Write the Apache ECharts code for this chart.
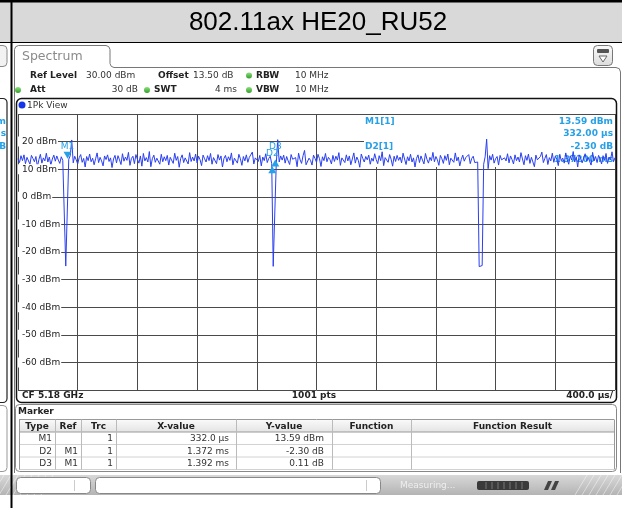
<!DOCTYPE html>
<html lang="en">
<head>
<meta charset="UTF-8">
<title>802.11ax HE20_RU52</title>
<style>
  html, body { margin: 0; padding: 0; background: #fff; }
  #chart { width: 622px; height: 508px; }
</style>
<script src="https://cdn.jsdelivr.net/npm/echarts@6.0.0/dist/echarts.min.js"></script>
</head>
<body>
<div id="chart"></div>
<script>
// trace 1 (peak detector), one value every 10 us from 0 to 4000 us
const traceStepUs = 10;
const traceDbm = [
  13.8, 12.4, 14.9, 13.1, 15.2, 12.0, 14.3, 13.6, 11.8, 15.0, 13.9, 12.7, 14.6, 10.9, 13.5, 15.4, 12.2, 14.1, 13.0, 15.8,
  12.6, 14.4, 11.5, 13.7, 15.1, 12.9, 14.8, 13.3, 12.1, 14.5, 13.2, 12.8, -25.1, -25.4, 13.6, 14.9, 20.6, 12.3, 14.7, 13.4,
  11.9, 14.2, 15.3, 12.5, 13.9, 10.8, 14.6, 13.1, 15.5, 12.7, 14.0, 11.6, 13.8, 15.9, 12.4, 14.3, 13.0, 11.2, 14.8, 13.5,
  15.2, 12.8, 14.1, 10.6, 13.7, 15.0, 12.3, 14.9, 13.4, 11.7, 15.6, 12.9, 14.4, 13.2, 16.1, 11.4, 13.9, 14.7, 12.0, 15.3,
  13.6, 12.2, 14.8, 11.1, 15.7, 13.0, 14.2, 12.6, 16.4, 10.9, 13.8, 15.1, 12.5, 14.0, 13.3, 11.8, 15.4, 12.7, 14.5, 13.1,
  15.0, 11.5, 14.3, 13.7, 12.1, 15.8, 13.2, 14.6, 10.7, 13.9, 15.2, 12.4, 14.1, 13.5, 11.9, 16.0, 12.8, 14.4, 13.0, 15.5,
  12.3, 14.7, 13.4, 11.3, 15.1, 13.8, 12.6, 14.9, 13.1, 15.7, 11.8, 14.2, 13.6, 12.0, 15.3, 13.3, 14.8, 10.8, 13.9, 15.0,
  12.7, 14.5, 13.2, 15.9, 11.6, 14.0, 13.5, 12.2, 15.4, 13.8, 11.4, 14.6, 13.0, 15.2, 12.5, 14.3, 13.7, 16.2, 11.9, 14.1,
  13.4, 12.8, 15.0, 11.2, 14.4, 13.1, 15.6, 12.4, 13.9, 14.7, 12.0, -25.2, -25.0, 11.3, 20.7, 12.6, 14.8, 13.3, 15.1, 12.2,
  14.6, 13.0, 11.7, 15.3, 13.6, 12.9, 14.2, 10.9, 15.8, 13.4, 12.1, 14.9, 16.8, 11.6, 12.3, 14.0, 13.2, 11.5, 15.1, 13.9,
  12.5, 15.4, 13.8, 11.0, 14.5, 13.1, 15.7, 12.7, 14.3, 13.5, 11.9, 15.0, 12.8, 14.7, 13.3, 16.0, 11.4, 14.1, 13.6, 12.4,
  15.2, 13.0, 14.8, 11.6, 13.7, 15.9, 12.2, 14.4, 13.2, 10.7, 15.5, 13.9, 12.6, 14.6, 13.4, 15.1, 11.8, 14.0, 12.9, 15.6,
  13.5, 12.0, 14.9, 13.1, 16.3, 11.3, 14.2, 13.8, 12.5, 15.3, 13.6, 11.1, 14.7, 12.8, 15.0, 13.2, 14.4, 12.3, 15.8, 13.7,
  11.7, 14.5, 13.0, 15.4, 12.6, 14.1, 10.8, 13.9, 15.2, 12.4, 14.8, 13.3, 11.9, 15.7, 13.6, 12.2, 14.3, 13.1, 16.1, 12.7,
  14.6, 13.4, 11.4, 15.0, 13.8, 12.1, 14.9, 13.2, 15.5, 11.6, 14.0, 13.7, 12.5, 15.9, 13.0, 14.4, 11.2, 13.5, 15.1, 12.9,
  14.2, 13.6, 15.3, 12.0, 13.9, 14.7, 12.4, 13.1, 12.6, -25.3, -25.1, -24.9, 11.8, 14.5, 20.9, 10.2, 14.9, 13.3, 15.4, 12.2,
  13.8, 14.6, 11.5, 15.0, 13.4, 12.7, 14.1, 13.0, 15.6, 12.3, 14.8, 13.5, 11.9, 15.2, 13.1, 14.4, 12.6, 16.0, 13.7, 11.6,
  14.9, 13.2, 15.5, 12.1, 14.3, 13.8, 10.9, 15.1, 13.4, 12.8, 14.6, 16.2, 12.4, 13.9, 15.3, 11.7, 14.2, 13.0, 15.8, 12.5,
  14.7, 13.6, 11.3, 15.4, 13.1, 14.0, 12.2, 15.9, 13.5, 11.8, 14.8, 13.3, 16.4, 12.6, 14.5, 10.8, 15.2, 13.9, 12.3, 14.1,
  15.6, 12.9, 14.3, 13.7, 11.5, 16.1, 13.0, 14.6, 12.4, 15.0, 13.8, 11.9, 14.9, 13.2, 15.7, 12.1, 14.4, 13.5, 16.3, 12.7,
  14.2
];

// marker table (M1 absolute, D2/D3 relative to M1)
const markerTypes = ['M1', 'D2', 'D3'];
const markerRefs = ['', 'M1', 'M1'];
const markerTrc = ['1', '1', '1'];
const markerXText = ['332.0 \u00b5s', '1.372 ms', '1.392 ms'];
const markerYText = ['13.59 dBm', '-2.30 dB', '0.11 dB'];
const markerXUs = [332, 1372, 1392];
const markerYVal = [13.59, -2.30, 0.11];
const tableHeader = ['Type', 'Ref', 'Trc', 'X-value', 'Y-value', 'Function', 'Function Result'];

// axes: ref level 30 dBm, 10 dB/div; 400 us/div
const yMin = -70, yMax = 30, yStep = 10;
const xMinUs = 0, xMaxUs = 4000, xStepUs = 400;

const FONT = 'DejaVu Sans';
const MK = '#26a0e6';

const traceData = traceDbm.map((v, i) => [i * traceStepUs, v]);

// marker points in trace coordinates
const m1 = [markerXUs[0], markerYVal[0]];
const markerPts = markerTypes.map((name, i) => {
  if (i === 0) return m1;
  return [m1[0] + markerXUs[i], m1[1] + markerYVal[i]];
});

function txt(text, x, y, o) {
  o = o || {};
  return {
    type: 'text', z: o.z == null ? 10 : o.z, silent: true,
    style: {
      text: text, x: x, y: y,
      fill: o.color || '#222',
      fontSize: o.size || 9,
      fontFamily: o.family || FONT,
      fontWeight: o.bold ? 'bold' : 'normal',
      align: o.align || 'left', textAlign: o.align || 'left',
      verticalAlign: 'middle', textVerticalAlign: 'middle'
    }
  };
}
function rect(x, y, w, h, style, r, z) {
  return { type: 'rect', z: z == null ? 10 : z, silent: true,
    shape: { x: x, y: y, width: w, height: h, r: r || 0 }, style: style };
}
function line(x1, y1, x2, y2, stroke, w, z) {
  return { type: 'line', z: z == null ? 10 : z, silent: true,
    shape: { x1: x1, y1: y1, x2: x2, y2: y2 }, style: { stroke: stroke, lineWidth: w || 1 } };
}
function dot(cx, cy, color) {
  return { type: 'circle', z: 10, silent: true, shape: { cx: cx, cy: cy, r: 3 },
    style: { fill: new echarts.graphic.LinearGradient(0, 0, 0, 1, [
      { offset: 0, color: '#8ee07a' }, { offset: 1, color: color || '#2f9e2a' }]) } };
}

const g = [];

// page frame + title bar
g.push(rect(0, 0, 622, 42, { fill: '#d9d9d9' }, 0, 0));
g.push(rect(0, 0, 622, 2.5, { fill: '#000' }, 0, 0));
g.push(line(0, 42.5, 622, 42.5, '#000', 1, 0));
g.push(line(11.5, 0, 11.5, 508, '#000', 2, 12));
g.push(txt('802.11ax HE20_RU52', 318, 22.5, { size: 26, family: 'Liberation Sans', color: '#000', align: 'center' }));

// left neighbour panel (cut off)
g.push(rect(-8, 45.5, 15, 21, { fill: '#f2f2f2', stroke: '#888', lineWidth: 1 }, 4));
g.push(rect(-8, 98.5, 15, 304, { fill: 'none', stroke: '#222', lineWidth: 1.2 }, 4));
g.push(rect(-8, 405.5, 15, 66, { fill: 'none', stroke: '#999', lineWidth: 1 }, 4));
g.push(txt('m', 6, 121.5, { bold: true, color: MK, align: 'right' }));
g.push(txt('s', 6, 134, { bold: true, color: MK, align: 'right' }));
g.push(txt('B', 6, 147, { bold: true, color: MK, align: 'right' }));

// spectrum panel with tab
g.push({ type: 'polyline', z: 1, silent: true,
  shape: { points: [[14.5, 473], [14.5, 49.5], [15.7, 46.7], [18.5, 45.5], [106, 45.5], [108.8, 46.7], [110, 49.5],
    [110, 63.5], [111.2, 66.3], [114, 67.5], [616, 67.5], [619.3, 68.7], [620.5, 72], [620.5, 473]] },
  style: { fill: 'none', stroke: '#777', lineWidth: 1 } });
g.push(txt('Spectrum', 22, 57, { size: 12.5, color: '#8a8a8a' }));
g.push(rect(593.5, 45.5, 19, 20, { fill: new echarts.graphic.LinearGradient(0, 0, 0, 1, [
  { offset: 0, color: '#fbfbfb' }, { offset: 1, color: '#dcdcdc' }]), stroke: '#777', lineWidth: 1 }, 4));
g.push(rect(597, 49, 12, 4, { fill: '#555' }, 1));
g.push({ type: 'polygon', z: 10, silent: true, shape: { points: [[599, 56], [607, 56], [603, 62]] },
  style: { fill: '#fff', stroke: '#666', lineWidth: 1 } });

// setup header
g.push(txt('Ref Level', 30, 75.5, { bold: true }));
g.push(txt('30.00 dBm', 86, 75.5, { color: '#333' }));
g.push(txt('Offset', 158, 75.5, { bold: true }));
g.push(txt('13.50 dB', 193, 75.5, { color: '#333' }));
g.push(dot(249, 75.5));
g.push(txt('RBW', 256, 75.5, { bold: true }));
g.push(txt('10 MHz', 295, 75.5, { color: '#333' }));
g.push(dot(18, 90));
g.push(txt('Att', 30, 90, { bold: true }));
g.push(txt('30 dB', 138, 90, { color: '#333', align: 'right' }));
g.push(dot(147, 90));
g.push(txt('SWT', 154, 90, { bold: true }));
g.push(txt('4 ms', 237, 90, { color: '#333', align: 'right' }));
g.push(dot(249, 90));
g.push(txt('VBW', 256, 90, { bold: true }));
g.push(txt('10 MHz', 295, 90, { color: '#333' }));

// diagram frame
g.push(rect(16.5, 98.5, 600, 304, { fill: 'none', stroke: '#111', lineWidth: 1.5 }, 5, 11));
g.push({ type: 'circle', z: 10, silent: true, shape: { cx: 22, cy: 105, r: 3.5 }, style: { fill: '#1436e6' } });
g.push(txt('1Pk View', 27, 105.5, { color: '#333' }));
g.push(txt('CF 5.18 GHz', 22, 396, { bold: true }));
g.push(txt('1001 pts', 314, 396, { bold: true, align: 'center' }));
g.push(txt('400.0 \u00b5s/', 613, 396, { bold: true, align: 'right' }));

// marker info field (under the trace)
g.push(rect(364, 115, 251, 52, { fill: '#fff' }, 0, 1));
g.push(txt(markerTypes[0] + '[1]', 365, 121.5, { bold: true, color: MK, z: 1 }));
g.push(txt(markerYText[0], 613, 121.5, { bold: true, color: MK, align: 'right', z: 1 }));
g.push(txt(markerXUs[0].toFixed(2) + ' \u00b5s', 613, 134, { bold: true, color: MK, align: 'right', z: 1 }));
g.push(txt(markerTypes[1] + '[1]', 365, 147, { bold: true, color: MK, z: 1 }));
g.push(txt(markerYText[1], 613, 147, { bold: true, color: MK, align: 'right', z: 1 }));
g.push(txt((markerXUs[1] / 1000).toFixed(5) + ' ms', 613, 160, { bold: true, color: MK, align: 'right', z: 1 }));

// marker table
g.push(rect(15.5, 404.5, 601, 67, { fill: '#fff', stroke: '#888', lineWidth: 1 }, 4, 1));
g.push(txt('Marker', 18, 412, { bold: true }));
const colEdges = [19, 55, 81, 116, 236, 332, 411, 614];
const rowTop = 419.5, rowH = 12.5;
g.push(rect(colEdges[0], rowTop, colEdges[7] - colEdges[0], rowH, {
  fill: new echarts.graphic.LinearGradient(0, 0, 0, 1, [
    { offset: 0, color: '#fafafa' }, { offset: 1, color: '#e4e4e4' }]) }, 0, 2));
for (let r = 0; r <= 4; r++) {
  const y = rowTop + r * rowH;
  g.push(line(colEdges[0], y, colEdges[7], y, r === 0 || r === 1 ? '#999' : '#d2d2d2', 1, 3));
}
colEdges.forEach((x, i) => {
  g.push(line(x + 0.5, rowTop, x + 0.5, rowTop + 4 * rowH, i === 0 || i === 7 ? '#999' : '#bbb', 1, 3));
});
tableHeader.forEach((h, i) => {
  g.push(txt(h, (colEdges[i] + colEdges[i + 1]) / 2, rowTop + rowH / 2 + 0.5, { bold: true, align: 'center' }));
});
markerTypes.forEach((name, r) => {
  const y = rowTop + (r + 1) * rowH + rowH / 2 + 0.5;
  const cells = [name, markerRefs[r], markerTrc[r], markerXText[r], markerYText[r], '', ''];
  const pad = [3, 3, 3, 7, 8, 3, 3];
  cells.forEach((c, i) => {
    if (c) g.push(txt(c, colEdges[i + 1] - pad[i], y, { color: '#333', align: 'right' }));
  });
});

// status bar
g.push(rect(0, 475, 622, 20, { fill: new echarts.graphic.LinearGradient(0, 0, 0, 1, [
  { offset: 0, color: '#d8d8d8' }, { offset: 1, color: '#b4b4b4' }]) }, 0, 1));
for (let k = 0; k < 8; k++) {
  g.push(line(575 + k * 7, 495, 587 + k * 7, 475, 'rgba(255,255,255,0.45)', 1, 2));
  g.push(line(-8 + k * 7, 495, 4 + k * 7, 475, 'rgba(255,255,255,0.45)', 1, 2));
}
g.push(rect(16.5, 477.5, 74, 16, { fill: '#fff', stroke: '#888', lineWidth: 1 }, 4, 3));
g.push(line(74.5, 480, 74.5, 491, '#ccc', 1, 4));
g.push(rect(95.5, 477.5, 285, 16, { fill: '#fff', stroke: '#888', lineWidth: 1 }, 4, 3));
g.push(line(366.5, 480, 366.5, 491, '#ccc', 1, 4));
g.push(txt('Measuring...', 400, 485.5, { color: '#eeeeee' }));
g.push(rect(477, 481, 52, 9, { fill: '#3a3a3a' }, 2, 3));
for (let k = 1; k < 8; k++) g.push(line(480 + k * 6, 482, 480 + k * 6, 489, '#777', 1, 4));
g.push({ type: 'polygon', z: 3, silent: true, shape: { points: [[544, 490], [548, 481], [552, 481], [548, 490]] }, style: { fill: '#444' } });
g.push({ type: 'polygon', z: 3, silent: true, shape: { points: [[551, 490], [555, 481], [559, 481], [555, 490]] }, style: { fill: '#444' } });

const chart = echarts.init(document.getElementById('chart'));
chart.setOption({
  animation: false,
  backgroundColor: '#fff',
  grid: { left: 18, top: 114, width: 597, height: 276, show: false, containLabel: false, outerBoundsMode: 'none' },
  xAxis: {
    type: 'value', min: xMinUs, max: xMaxUs, interval: xStepUs,
    axisLine: { show: false }, axisTick: { show: false }, axisLabel: { show: false },
    splitLine: { show: true, lineStyle: { color: '#4a4a4a', width: 1 } }
  },
  yAxis: [
    {
      type: 'value', min: yMin, max: yMax, interval: yStep,
      axisLine: { show: false }, axisTick: { show: false }, axisLabel: { show: false },
      splitLine: { show: true, lineStyle: { color: '#4a4a4a', width: 1 } }
    },
    {
      type: 'value', min: yMin, max: yMax, interval: yStep, position: 'left', offset: 0, z: 5,
      axisLine: { show: false }, axisTick: { show: false }, splitLine: { show: false },
      axisLabel: {
        inside: true, margin: 0, showMinLabel: false, showMaxLabel: false,
        formatter: v => (v === yMin || v === yMax) ? '' : v + ' dBm',
        color: '#222', fontSize: 9, fontFamily: FONT,
        backgroundColor: '#fff', padding: [1, 1, 0, 4]
      }
    }
  ],
  graphic: g,
  series: [{
    type: 'line', data: traceData, xAxisIndex: 0, yAxisIndex: 0, z: 2,
    symbol: 'none', showSymbol: false, clip: true,
    lineStyle: { color: '#2a3ff0', width: 1 },
    markPoint: {
      animation: false,
      data: markerTypes.map((name, i) => ({
        coord: markerPts[i],
        symbol: 'triangle',
        symbolSize: [8, 7],
        symbolRotate: i === 0 ? 180 : 0,
        symbolOffset: i === 0 ? [0, -4] : [0, 4],
        itemStyle: { color: MK },
        label: {
          show: true, formatter: name, position: 'top',
          distance: i === 0 ? 1 : 8, color: MK, fontSize: 9, fontFamily: FONT
        }
      }))
    }
  }]
});
</script>
</body>
</html>
